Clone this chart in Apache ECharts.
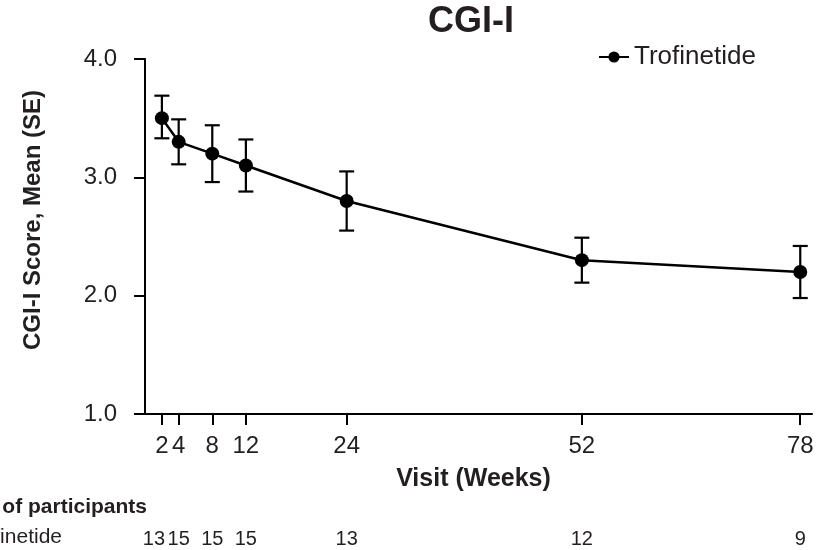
<!DOCTYPE html>
<html><head><meta charset="utf-8">
<script src="https://cdn.jsdelivr.net/npm/echarts@6/dist/echarts.min.js"></script>
<style>html,body{margin:0;padding:0;background:#fff}#c{width:820px;height:550px}</style>
</head><body><div id="c"></div>
<script>
const weeks = [2, 4, 8, 12, 24, 52, 78];
const meanScore = [3.5, 3.3, 3.2, 3.1, 2.8, 2.3, 2.2];
const upperSE = [3.69, 3.49, 3.44, 3.32, 3.05, 2.49, 2.42];
const lowerSE = [3.33, 3.11, 2.96, 2.88, 2.55, 2.11, 1.98];
const participants = [13, 15, 15, 15, 13, 12, 9];
const xTicks = [2, 4, 8, 12, 24, 52, 78];
const seriesName = 'Trofinetide';
const titleText = 'CGI-I';
const xName = 'Visit (Weeks)';
const yName = 'CGI-I Score, Mean (SE)';
const tableHeader = 'Number of participants';

const FONT = '"Liberation Sans", Arial, Helvetica, sans-serif';
const TXT = '#231f20';
const INK = '#000';

const chart = echarts.init(document.getElementById('c'), null, {renderer: 'canvas'});

const lineData = weeks.map((w, i) => [w, meanScore[i]]);
const errData = weeks.map((w, i) => [w, lowerSE[i], upperSE[i]]);
const countData = weeks.map((w, i) => [w, 1, participants[i]]);

chart.setOption({
  backgroundColor: '#fff',
  animation: false,
  title: {
    text: titleText, left: 471, top: 4, padding: 0, textAlign: 'center',
    textStyle: {fontFamily: FONT, fontSize: 36, fontWeight: 'bold', color: TXT}
  },
  legend: {
    data: [seriesName], left: 598, top: 44, padding: 0,
    itemWidth: 30, itemHeight: 14,
    textStyle: {fontFamily: FONT, fontSize: 26, color: TXT}
  },
  grid: {left: 135, right: 8, top: 59, bottom: 136, containLabel: false},
  xAxis: {
    type: 'value', min: -1.2, max: 79.4,
    name: xName, nameLocation: 'middle', nameGap: 53,
    nameTextStyle: {fontFamily: FONT, fontSize: 25, fontWeight: 'bold', color: TXT},
    axisLine: {show: true, onZero: false, lineStyle: {color: INK, width: 2}},
    axisTick: {show: true, length: 11, lineStyle: {color: INK, width: 2}, customValues: xTicks},
    axisLabel: {show: true, margin: 20, fontFamily: FONT, fontSize: 24, color: TXT, customValues: xTicks},
    splitLine: {show: false}
  },
  yAxis: {
    type: 'value', min: 1, max: 4, interval: 1,
    axisLine: {show: true, lineStyle: {color: INK, width: 2}},
    axisTick: {show: true, length: 11, lineStyle: {color: INK, width: 2}},
    axisLabel: {margin: 18, fontFamily: FONT, fontSize: 24, color: TXT, formatter: v => v.toFixed(1)},
    splitLine: {show: false}
  },
  graphic: [
    {type: 'text', x: 33, y: 220, rotation: Math.PI / 2, style: {text: yName, textAlign: 'center', textVerticalAlign: 'middle', fontFamily: FONT, fontSize: 24, fontWeight: 'bold', fill: TXT}},
    {type: 'text', x: 147, y: 507, style: {text: tableHeader, textAlign: 'right', textVerticalAlign: 'middle', fontFamily: FONT, fontSize: 21, fontWeight: 'bold', fill: TXT}},
    {type: 'text', x: 62, y: 537, style: {text: seriesName, textAlign: 'right', textVerticalAlign: 'middle', fontFamily: FONT, fontSize: 21, fill: TXT}}
  ],
  series: [
    {
      name: 'SE', type: 'custom', silent: true, z: 2,
      data: errData, encode: {x: 0, y: [1, 2]},
      renderItem: (params, api) => {
        const lo = api.coord([api.value(0), api.value(1)]);
        const hi = api.coord([api.value(0), api.value(2)]);
        const hw = 7.5;
        const st = {stroke: INK, lineWidth: 2.2};
        return {type: 'group', children: [
          {type: 'line', shape: {x1: lo[0], y1: lo[1], x2: hi[0], y2: hi[1]}, style: st},
          {type: 'line', shape: {x1: lo[0] - hw, y1: lo[1], x2: lo[0] + hw, y2: lo[1]}, style: st},
          {type: 'line', shape: {x1: hi[0] - hw, y1: hi[1], x2: hi[0] + hw, y2: hi[1]}, style: st}
        ]};
      }
    },
    {
      name: seriesName, type: 'line', z: 3,
      data: lineData,
      symbol: 'circle', symbolSize: 14,
      lineStyle: {color: INK, width: 2.5},
      itemStyle: {color: INK},
      showAllSymbol: true
    },
    {
      name: 'N', type: 'custom', silent: true, clip: false,
      data: countData, encode: {x: 0, y: 1},
      renderItem: (params, api) => {
        const p = api.coord([api.value(0), api.value(1)]);
        const shift = params.dataIndex === 0 ? -8 : 0;
        return {type: 'text', x: p[0] + shift, y: 539, style: {
          text: String(api.value(2)), textAlign: 'center', textVerticalAlign: 'middle',
          fontFamily: FONT, fontSize: 20, fill: TXT}};
      }
    }
  ]
});
</script></body></html>
